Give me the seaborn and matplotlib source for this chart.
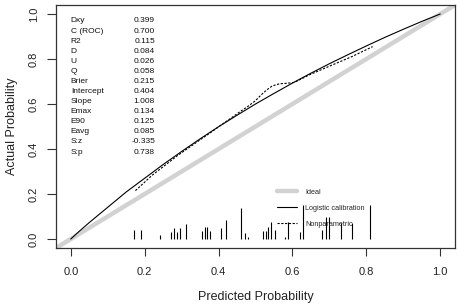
import numpy as np
import pandas as pd
import seaborn as sns
import matplotlib
matplotlib.use("Agg")
import matplotlib.pyplot as plt
from matplotlib.lines import Line2D

# ---- data ----
stat_names = ["Dxy", "C (ROC)", "R2", "D", "U", "Q", "Brier", "Intercept",
              "Slope", "Emax", "E90", "Eavg", "S:z", "S:p"]
stat_values = ["0.399", "0.700", "0.115", "0.084", "0.026", "0.058", "0.215",
               "0.404", "1.008", "0.134", "0.125", "0.085", "-0.335", "0.738"]

logit_x = [0.0, 0.02, 0.05, 0.1, 0.15, 0.2, 0.25, 0.3, 0.35, 0.4, 0.45, 0.5,
           0.55, 0.6, 0.65, 0.7, 0.75, 0.8, 0.85, 0.9, 0.95, 1.0]
logit_y = [0.0, 0.03, 0.073, 0.141, 0.209, 0.270, 0.331, 0.389, 0.445, 0.499,
           0.550, 0.600, 0.647, 0.693, 0.737, 0.779, 0.819, 0.858, 0.896,
           0.932, 0.967, 1.0]

np_x = [0.175, 0.22, 0.29, 0.38, 0.46, 0.48, 0.50, 0.515, 0.53, 0.545,
        0.565, 0.585, 0.605, 0.625, 0.645, 0.70, 0.76, 0.817]
np_y = [0.215, 0.283, 0.372, 0.475, 0.568, 0.59, 0.615, 0.64, 0.662, 0.680,
        0.690, 0.692, 0.696, 0.712, 0.729, 0.768, 0.81, 0.855]

spike_x = [0.171, 0.190, 0.241, 0.271, 0.279, 0.287, 0.295, 0.312, 0.355,
           0.363, 0.369, 0.377, 0.407, 0.420, 0.461, 0.472, 0.480, 0.520,
           0.528, 0.534, 0.542, 0.553, 0.580, 0.588, 0.621, 0.629, 0.680,
           0.691, 0.699, 0.732, 0.762, 0.810]
spike_h = [0.040, 0.040, 0.018, 0.031, 0.049, 0.031, 0.049, 0.067, 0.036,
           0.053, 0.053, 0.036, 0.049, 0.084, 0.138, 0.027, 0.009, 0.036,
           0.036, 0.053, 0.076, 0.040, 0.009, 0.076, 0.031, 0.151, 0.040,
           0.098, 0.098, 0.071, 0.071, 0.151]

ticks = [0.0, 0.2, 0.4, 0.6, 0.8, 1.0]
tick_labels = ["0.0", "0.2", "0.4", "0.6", "0.8", "1.0"]
legend_labels = ["Ideal", "Logistic calibration", "Nonparametric"]

# ---- styling ----
sns.set_theme(style="ticks")
plt.rcParams["font.family"] = ["Liberation Sans", "DejaVu Sans"]

fig = plt.figure(figsize=(4.59, 3.06), dpi=100)
ax = fig.add_axes([56 / 459, 58 / 306, 399 / 459, 243 / 306])

ideal_col = "#d2d2d2"
ax.axline((0, 0), (1, 1), color=ideal_col, lw=3.2, zorder=1,
          solid_capstyle="butt")

sns.lineplot(x=logit_x, y=logit_y, ax=ax, color="black", lw=0.8,
             sort=False, estimator=None, zorder=3)
sns.lineplot(x=np_x, y=np_y, ax=ax, color="black", lw=0.8,
             linestyle=(0, (2, 1.4)), sort=False, estimator=None, zorder=3)

ax.vlines(spike_x, 0, spike_h, color="black", lw=0.8, zorder=2)

ax.set_xlim(-0.04, 1.04)
ax.set_ylim(-0.04, 1.04)
ax.set_xticks(ticks)
ax.set_xticklabels(tick_labels)
ax.set_yticks(ticks)
ax.set_yticklabels(tick_labels, rotation=90, va="center")

for s in ax.spines.values():
    s.set_visible(True)
    s.set_linewidth(0.9)
    s.set_color("#333333")

ax.tick_params(axis="x", length=5.5, width=0.8, pad=8, labelsize=8,
               color="#333333", labelcolor="#222222")
ax.tick_params(axis="y", length=6.5, width=0.8, pad=6, labelsize=8,
               color="#333333", labelcolor="#222222")

ax.set_xlabel("Predicted Probability", fontsize=9, color="#222222",
              labelpad=10)
ax.set_ylabel("Actual Probability", fontsize=9, color="#222222", labelpad=8)

# stats text
y0 = 0.969
dy = 0.0448
for i, (n, v) in enumerate(zip(stat_names, stat_values)):
    y = y0 - i * dy
    ax.text(0.0, y, n, fontsize=6, ha="left", va="center", color="#111111")
    ax.text(0.228, y, v, fontsize=6, ha="right", va="center",
            color="#111111")

handles = [
    Line2D([], [], color=ideal_col, lw=3.2),
    Line2D([], [], color="black", lw=0.8),
    Line2D([], [], color="black", lw=0.8, linestyle=(0, (2, 1.4))),
]
ax.legend(handles, legend_labels, loc="upper left",
          bbox_to_anchor=(0.554, 0.245), frameon=False, fontsize=5.2,
          handlelength=2.8, handletextpad=1.1, labelspacing=1.25,
          borderpad=0, borderaxespad=0)

fig.savefig("out.png", dpi=100)
